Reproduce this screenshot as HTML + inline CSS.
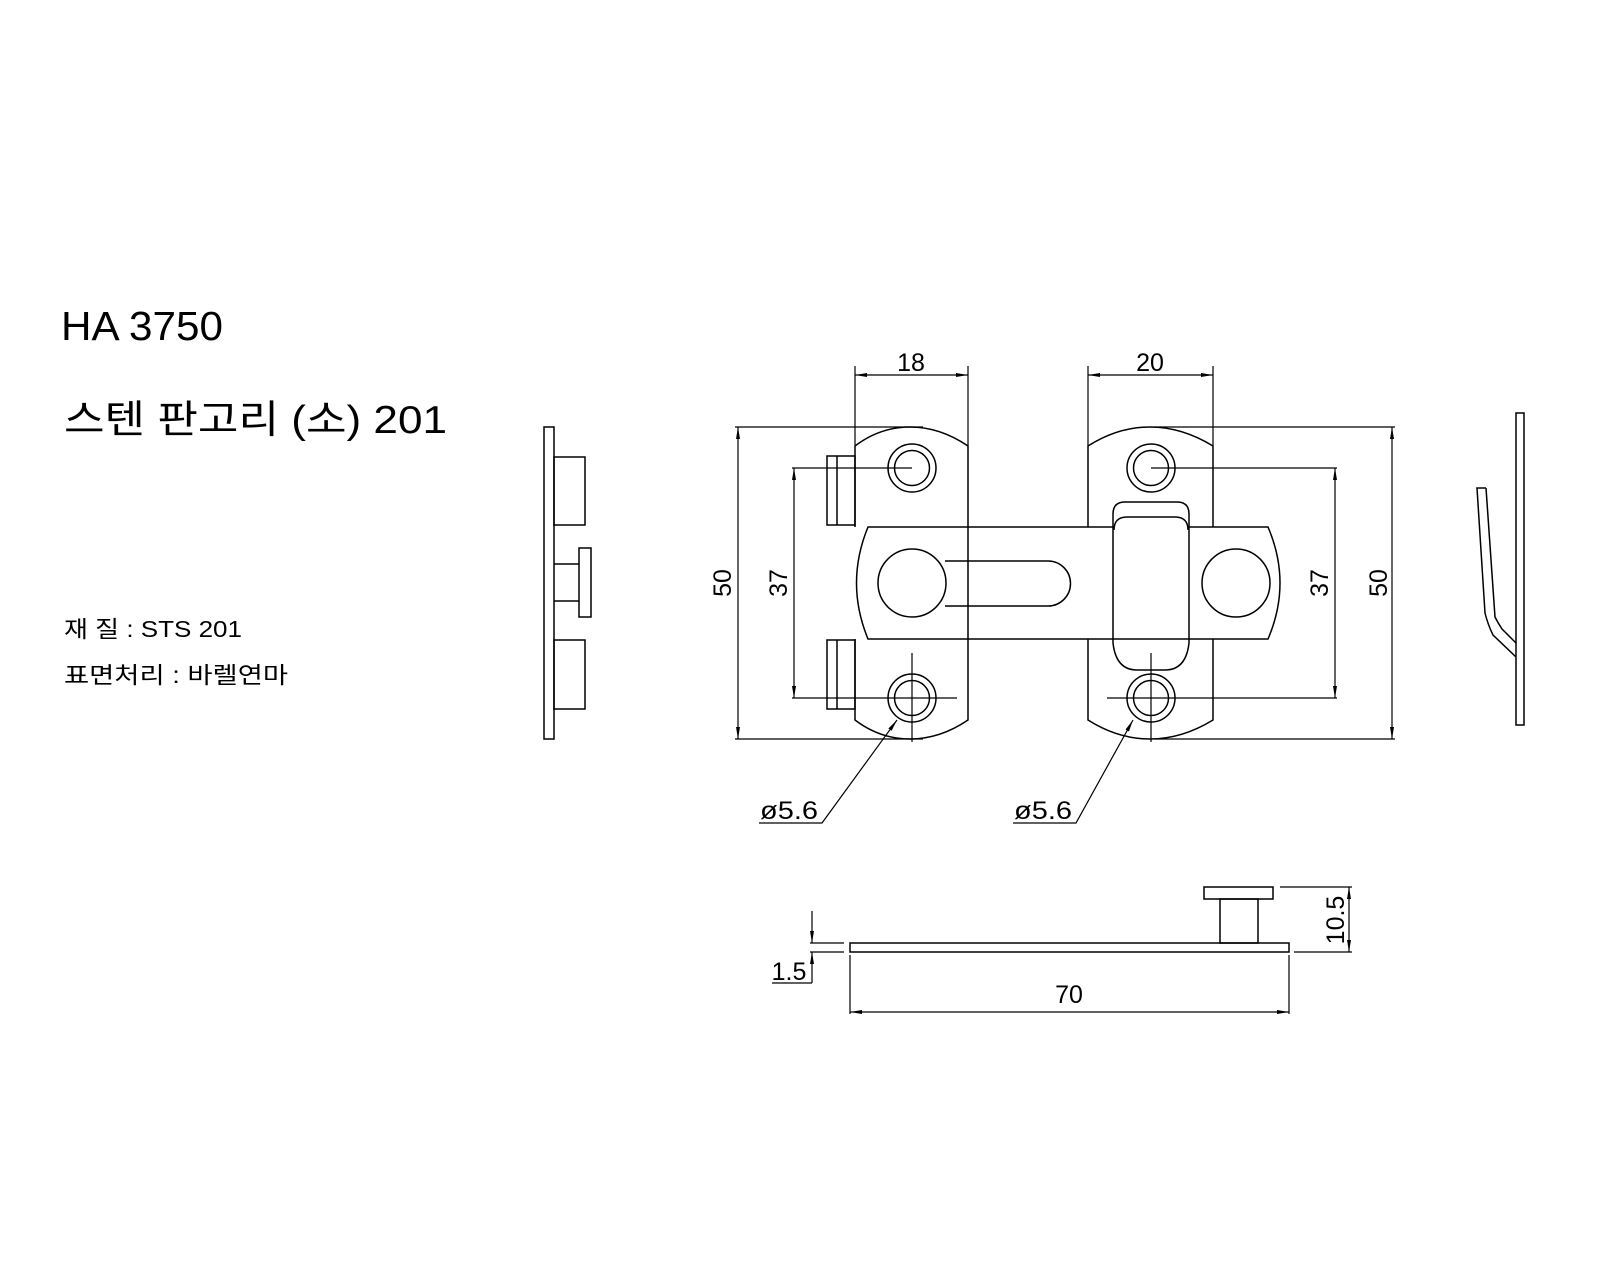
<!DOCTYPE html>
<html><head><meta charset="utf-8"><style>
html,body{margin:0;padding:0;background:#fff;}
svg{display:block;}
.t{font-family:"Liberation Sans","Noto Sans CJK KR",sans-serif;fill:#000;}
</style></head><body>
<svg width="1600" height="1280" viewBox="0 0 1600 1280" xmlns="http://www.w3.org/2000/svg">
<defs>
<marker id="a" viewBox="0 0 12 4" refX="12" refY="2" markerWidth="12" markerHeight="4" markerUnits="userSpaceOnUse" orient="auto-start-reverse"><path d="M0,0 L12,2 L0,4z" fill="#000"/></marker>
</defs>
<text class="t" x="61" y="340" font-size="41" textLength="162" lengthAdjust="spacingAndGlyphs">HA 3750</text>
<text class="t" x="64" y="433" font-size="39" textLength="383" lengthAdjust="spacingAndGlyphs">스텐 판고리 (소) 201</text>
<text class="t" x="64" y="637" font-size="23" textLength="178" lengthAdjust="spacingAndGlyphs">재 질 : STS 201</text>
<text class="t" x="64" y="683" font-size="23" textLength="224" lengthAdjust="spacingAndGlyphs">표면처리 : 바렐연마</text>

<g fill="none" stroke="#000" stroke-width="1.5">
<rect x="544" y="427" width="10" height="312"/>
<rect x="554" y="457" width="31" height="68"/>
<rect x="554" y="640" width="31" height="69"/>
<path d="M554 564H579M554 601H579"/>
<rect x="579" y="548" width="12" height="69"/>
<rect x="1516" y="413" width="8" height="312"/>
<path d="M1486 488H1477L1485 613Q1488 625 1493 635L1516 657M1486 488L1495 617Q1498 623 1502 629L1516 643"/>

<path d="M855 446Q880 427 910 427Q940 427 968 446V720Q940 739 910 739Q880 739 855 720V639M855 527V446"/>
<rect x="827" y="456" width="28" height="69"/><path d="M837 456V525M837 640V709"/>
<rect x="827" y="640" width="28" height="69"/>
<circle cx="912" cy="468" r="24"/><circle cx="912" cy="468" r="17.5"/>
<circle cx="912" cy="698" r="24"/><circle cx="912" cy="698" r="17.5"/>
<path d="M1088 527V446Q1118 427 1150 427Q1182 427 1213 446V527M1213 639V720Q1182 739 1150 739Q1118 739 1088 720V639"/>
<circle cx="1151" cy="468" r="24"/><circle cx="1151" cy="468" r="17.5"/>
<circle cx="1151" cy="698" r="24"/><circle cx="1151" cy="698" r="17.5"/>
<path d="M1113 527H868Q845 583 868 639H1268Q1292 583 1268 527H1189"/>
<circle cx="912" cy="583" r="34"/>
<path d="M945 561H1048A22.5 22.5 0 0 1 1048 606H945"/>
<circle cx="1236" cy="583" r="34"/>
<path d="M1113 514Q1113 502 1125 502H1177Q1189 502 1189 514V643Q1186 670 1165 670H1137Q1116 670 1113 643Z" fill="#fff"/>
<path d="M1114 530Q1114 517 1127 517H1175Q1188 517 1188 530"/>
<path d="M1113 639H1189"/>
</g>

<g fill="none" stroke="#000" stroke-width="1.2">
<path d="M792 468H912M792 698H957M912 653V742M1151 468H1337M1107 698H1337M1151 653V742"/>
<path d="M735 427H923M735 739H923M1155 427H1395M1155 739H1395M855 366V446M968 366V446M1088 366V446M1213 366V446"/>
<path d="M738 427V739" marker-start="url(#a)" marker-end="url(#a)"/>
<path d="M794 468V698" marker-start="url(#a)" marker-end="url(#a)"/>
<path d="M1335 468V698" marker-start="url(#a)" marker-end="url(#a)"/>
<path d="M1392 427V739" marker-start="url(#a)" marker-end="url(#a)"/>
<path d="M855 375H968" marker-start="url(#a)" marker-end="url(#a)"/>
<path d="M1088 375H1213" marker-start="url(#a)" marker-end="url(#a)"/>
<path d="M759 823H822L897 720" marker-end="url(#a)"/>
<path d="M1013 823H1076L1133 720" marker-end="url(#a)"/>
</g>
<g class="t" font-size="25" text-anchor="middle">
<text x="911" y="371">18</text>
<text x="1150" y="371">20</text>
<text transform="translate(731,583) rotate(-90)">50</text>
<text transform="translate(787,583) rotate(-90)">37</text>
<text transform="translate(1328,583) rotate(-90)">37</text>
<text transform="translate(1387,583) rotate(-90)">50</text>
<text x="789" y="819" textLength="58" lengthAdjust="spacingAndGlyphs">ø5.6</text>
<text x="1043" y="819" textLength="58" lengthAdjust="spacingAndGlyphs">ø5.6</text>
<text x="1069" y="1003">70</text>
<text x="789" y="980">1.5</text>
<text transform="translate(1344,920) rotate(-90)">10.5</text>
</g>

<g fill="none" stroke="#000" stroke-width="1.5">
<rect x="850" y="943" width="439" height="9"/>
<rect x="1220" y="899" width="38" height="44"/>
<rect x="1204" y="887" width="69" height="12"/>
</g>
<g fill="none" stroke="#000" stroke-width="1.2">
<path d="M1280 887H1352M1294 952H1352M810 943H844M810 952H844M850 955V1014M1289 955V1014M812 983H772"/>
<path d="M1349 887V952" marker-start="url(#a)" marker-end="url(#a)"/>
<path d="M850 1012H1289" marker-start="url(#a)" marker-end="url(#a)"/>
<path d="M812 911V943" marker-end="url(#a)"/>
<path d="M812 983V952" marker-end="url(#a)"/>
</g>
</svg>
</body></html>
